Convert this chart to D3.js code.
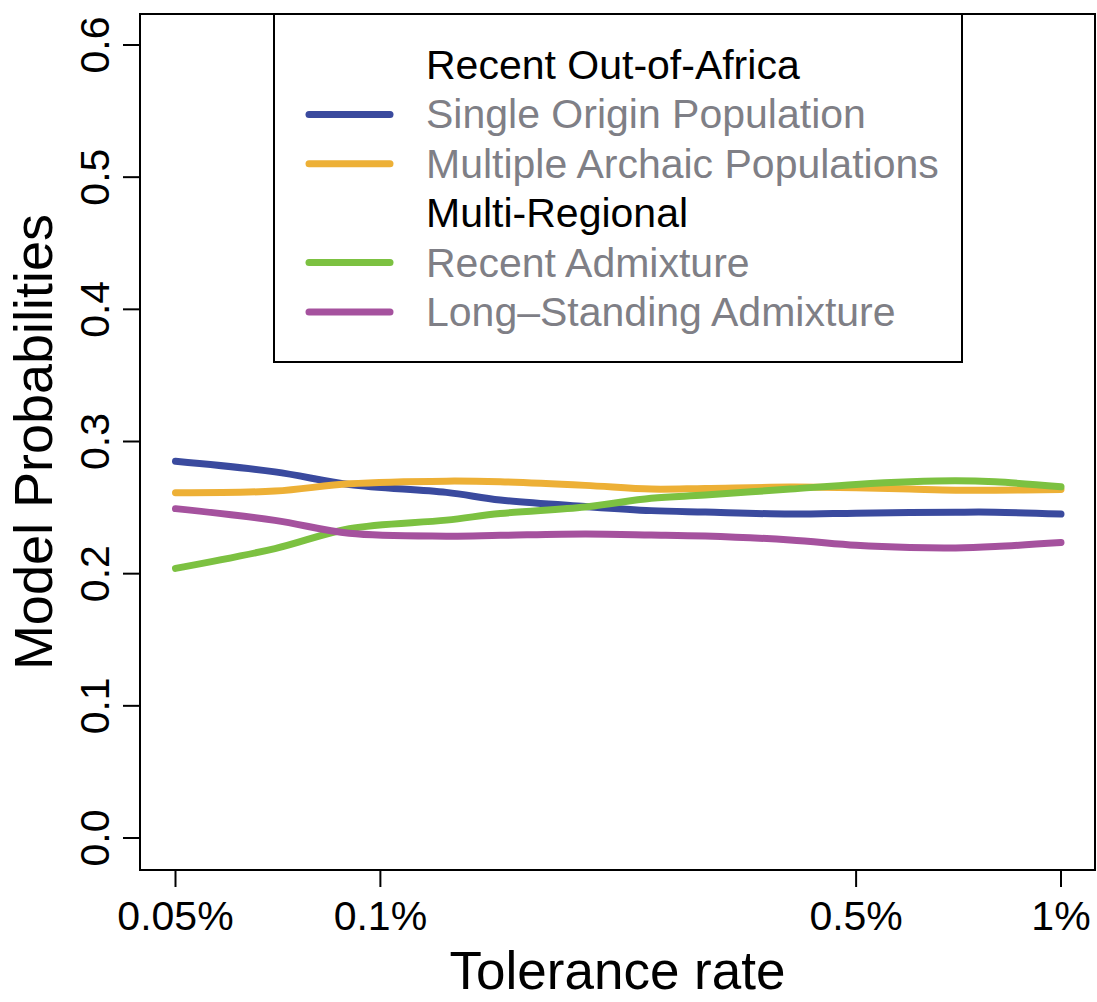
<!DOCTYPE html>
<html>
<head>
<meta charset="utf-8">
<script src="https://cdn.jsdelivr.net/npm/d3@7"></script>
<style>
  body { margin: 0; background: #fff; }
  svg { display: block; font-family: 'Liberation Sans', Arial, Helvetica, sans-serif; }
</style>
</head>
<body>
<svg id="root" width="1097" height="1002"></svg>
<script>
// tolerance rate (in %) and model probabilities
const tolerance = [0.05, 0.07, 0.09, 0.125, 0.15, 0.2, 0.25, 0.3, 0.4, 0.5, 0.6, 0.7, 0.8, 1.0];
const singleOrigin = [0.285, 0.277, 0.2675, 0.2615, 0.2557, 0.2508, 0.2477, 0.2466, 0.2451, 0.2458, 0.2462, 0.2465, 0.2465, 0.2451];
const multipleArchaic = [0.2612, 0.2625, 0.268, 0.270, 0.2695, 0.2668, 0.264, 0.2645, 0.2655, 0.265, 0.264, 0.2632, 0.2632, 0.2637];
const recentAdmixture = [0.204, 0.219, 0.234, 0.2405, 0.2455, 0.2505, 0.257, 0.2595, 0.264, 0.2675, 0.2695, 0.2703, 0.2695, 0.2657];
const longStanding = [0.2492, 0.2403, 0.2305, 0.2284, 0.229, 0.230, 0.2293, 0.2285, 0.2255, 0.2215, 0.2198, 0.2195, 0.2205, 0.2235];

const xTicks = [0.05, 0.1, 0.5, 1];
const yTicks = [0, 0.1, 0.2, 0.3, 0.4, 0.5, 0.6];

const series = [
  { name: 'Single Origin Population', color: '#3a4a9e', values: singleOrigin },
  { name: 'Multiple Archaic Populations', color: '#edb036', values: multipleArchaic },
  { name: 'Recent Admixture', color: '#7cc141', values: recentAdmixture },
  { name: 'Long\u2013Standing Admixture', color: '#a5529e', values: longStanding },
];

// legend rows: headers have no line
const legendRows = [
  { label: 'Recent Out-of-Africa' },
  series[0],
  series[1],
  { label: 'Multi-Regional' },
  series[2],
  series[3],
];

const svg = d3.select('#root');

const x = d3.scaleLog().domain([0.05, 1]).range([175.5, 1061]);
const y = d3.scaleLinear().domain([0, 0.6]).range([838, 45]);

// plot box (R style: 4% padding around the data range)
const box = { left: 140, right: 1095, top: 14, bottom: 870 };

svg.append('rect')
  .attr('x', box.left)
  .attr('y', box.top)
  .attr('width', box.right - box.left)
  .attr('height', box.bottom - box.top)
  .attr('fill', 'none')
  .attr('stroke', '#000')
  .attr('stroke-width', 2);

// x axis
const xAxis = svg.append('g').attr('transform', `translate(0,${box.bottom})`);
xAxis.selectAll('line')
  .data(xTicks)
  .enter()
  .append('line')
  .attr('x1', d => x(d))
  .attr('x2', d => x(d))
  .attr('y1', 0)
  .attr('y2', 17)
  .attr('stroke', '#000')
  .attr('stroke-width', 2);
xAxis.selectAll('text')
  .data(xTicks)
  .enter()
  .append('text')
  .attr('x', d => x(d))
  .attr('y', 60)
  .attr('text-anchor', 'middle')
  .attr('font-size', 41)
  .text(d => `${d}%`);

// y axis
const yAxis = svg.append('g').attr('transform', `translate(${box.left},0)`);
yAxis.selectAll('line')
  .data(yTicks)
  .enter()
  .append('line')
  .attr('x1', -17)
  .attr('x2', 0)
  .attr('y1', d => y(d))
  .attr('y2', d => y(d))
  .attr('stroke', '#000')
  .attr('stroke-width', 2);
yAxis.selectAll('text')
  .data(yTicks)
  .enter()
  .append('text')
  .attr('transform', d => `translate(-31,${y(d)}) rotate(-90)`)
  .attr('text-anchor', 'middle')
  .attr('font-size', 41)
  .text(d => d.toFixed(1));

// axis titles
svg.append('text')
  .attr('x', (box.left + box.right) / 2)
  .attr('y', 989)
  .attr('text-anchor', 'middle')
  .attr('font-size', 53)
  .text('Tolerance rate');

svg.append('text')
  .attr('transform', `translate(52,${(box.top + box.bottom) / 2}) rotate(-90)`)
  .attr('text-anchor', 'middle')
  .attr('font-size', 54)
  .text('Model Probabilities');

// lines
const line = d3.line()
  .x((_, i) => x(tolerance[i]))
  .y(d => y(d))
  .curve(d3.curveCatmullRom.alpha(0.5));

svg.append('g')
  .selectAll('path')
  .data(series)
  .enter()
  .append('path')
  .attr('d', d => line(d.values))
  .attr('fill', 'none')
  .attr('stroke', d => d.color)
  .attr('stroke-width', 7)
  .attr('stroke-linecap', 'round')
  .attr('stroke-linejoin', 'round');

// legend
const legend = svg.append('g');
legend.append('rect')
  .attr('x', 274)
  .attr('y', box.top)
  .attr('width', 962 - 274)
  .attr('height', 362 - box.top)
  .attr('fill', '#fff')
  .attr('stroke', '#000')
  .attr('stroke-width', 2);

const row = legend.selectAll('.row')
  .data(legendRows)
  .enter()
  .append('g')
  .attr('class', 'row')
  .attr('transform', (_, i) => `translate(0,${65 + i * 49.4})`);

row.filter(d => d.color)
  .append('line')
  .attr('x1', 309)
  .attr('x2', 390)
  .attr('stroke', d => d.color)
  .attr('stroke-width', 7)
  .attr('stroke-linecap', 'round');

row.append('text')
  .attr('x', 426)
  .attr('y', 14)
  .attr('font-size', 41)
  .attr('fill', d => (d.color ? '#7f7f86' : '#000'))
  .text(d => d.label || d.name);
</script>
</body>
</html>
